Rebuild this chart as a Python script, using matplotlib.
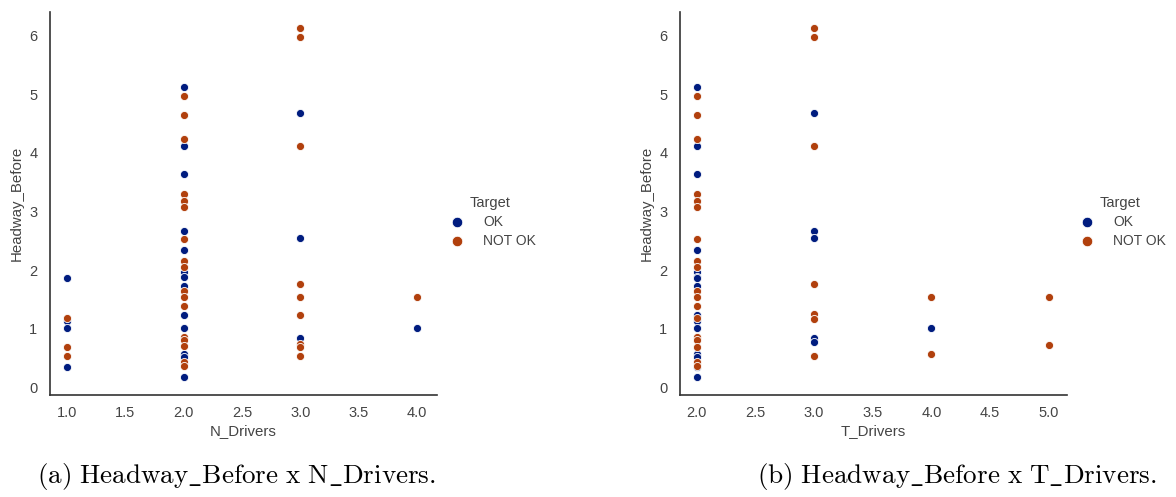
import matplotlib
matplotlib.use("Agg")
import matplotlib.pyplot as plt
import numpy as np

# ---------------- data ----------------
# Panel (a): Headway_Before vs N_Drivers
n_drivers = [1, 1, 1, 1, 1, 1, 1,
             2, 2, 2, 2, 2, 2, 2, 2, 2, 2, 2, 2, 2, 2, 2, 2,
             2, 2, 2, 2, 2, 2, 2, 2, 2, 2,
             2, 2, 2, 2,
             3, 3, 3, 3, 3, 3, 3, 3, 3, 3, 3, 3,
             4, 4]
headway_n = [1.865, 1.19, 1.13, 1.02, 0.68, 0.53, 0.34,
             5.12, 4.97, 4.64, 4.23, 4.12, 3.64, 3.29, 3.18, 3.07, 2.67, 2.53, 2.34, 2.15, 2.05, 1.96, 1.88,
             1.72, 1.64, 1.54, 1.38, 1.24, 1.01, 0.86, 0.80, 0.70, 0.57,
             0.51, 0.43, 0.37, 0.17,
             6.13, 5.97, 4.67, 4.12, 2.54, 1.77, 1.54, 1.23, 0.85, 0.74, 0.68, 0.54,
             1.54, 1.02]
target_n = ["OK", "NOT OK", "OK", "OK", "NOT OK", "NOT OK", "OK",
            "OK", "NOT OK", "NOT OK", "NOT OK", "OK", "OK", "NOT OK", "NOT OK", "NOT OK", "OK", "NOT OK", "OK", "NOT OK", "NOT OK", "OK", "OK",
            "OK", "NOT OK", "NOT OK", "NOT OK", "OK", "OK", "NOT OK", "NOT OK", "NOT OK", "OK",
            "OK", "NOT OK", "NOT OK", "OK",
            "NOT OK", "NOT OK", "OK", "NOT OK", "OK", "NOT OK", "NOT OK", "NOT OK", "OK", "NOT OK", "NOT OK", "NOT OK",
            "NOT OK", "OK"]

# Panel (b): Headway_Before vs T_Drivers
t_drivers = [2, 2, 2, 2, 2, 2, 2, 2, 2, 2, 2, 2, 2, 2, 2, 2, 2, 2, 2, 2,
             2, 2, 2, 2, 2, 2, 2, 2, 2, 2, 2, 2, 2,
             3, 3, 3, 3, 3, 3, 3, 3, 3, 3, 3, 3,
             4, 4, 4,
             5, 5]
headway_t = [5.12, 4.97, 4.64, 4.23, 4.12, 3.64, 3.29, 3.18, 3.07, 2.53, 2.34, 2.15, 2.05, 1.96, 1.88, 1.865, 1.72, 1.64, 1.54, 1.38,
             1.24, 1.19, 1.13, 1.01, 0.86, 0.80, 0.68, 0.57, 0.51, 0.43, 0.37, 0.34, 0.17,
             6.13, 5.97, 4.67, 4.12, 2.67, 2.54, 1.77, 1.25, 1.17, 0.85, 0.77, 0.54,
             1.54, 1.02, 0.57,
             1.54, 0.73]
target_t = ["OK", "NOT OK", "NOT OK", "NOT OK", "OK", "OK", "NOT OK", "NOT OK", "NOT OK", "NOT OK", "OK", "NOT OK", "NOT OK", "OK", "OK", "OK", "OK", "NOT OK", "NOT OK", "NOT OK",
            "OK", "NOT OK", "OK", "OK", "NOT OK", "NOT OK", "NOT OK", "OK", "OK", "NOT OK", "NOT OK", "OK", "OK",
            "NOT OK", "NOT OK", "OK", "NOT OK", "OK", "OK", "NOT OK", "NOT OK", "NOT OK", "OK", "OK", "NOT OK",
            "NOT OK", "OK", "NOT OK",
            "NOT OK", "NOT OK"]

hue_order = ["OK", "NOT OK"]
y_ticks = [0, 1, 2, 3, 4, 5, 6]
xticks_n = [1.0, 1.5, 2.0, 2.5, 3.0, 3.5, 4.0]
xticks_t = [2.0, 2.5, 3.0, 3.5, 4.0, 4.5, 5.0]
captions = [r"$\mathrm{(a)\ Headway\_Before\ x\ N\_Drivers.}$",
            r"$\mathrm{(b)\ Headway\_Before\ x\ T\_Drivers.}$"]

# ---------------- style ----------------
plt.rcParams["font.family"] = ["Liberation Sans", "DejaVu Sans"]
plt.rcParams["mathtext.fontset"] = "cm"
colors = {"OK": "#001c7f", "NOT OK": "#b1400d"}
text_c = "#444444"

fig = plt.figure(figsize=(11.76, 4.97), dpi=100)
W, H = 1176, 497

def add_panel(x0, x1, xs, ys, ts, xlabel, xticks, xlim, legend_x):
    ax = fig.add_axes([x0 / W, 1 - 395 / H, (x1 - x0) / W, (395 - 12) / H])
    xs = np.asarray(xs, float); ys = np.asarray(ys, float); ts = np.asarray(ts)
    for lab in hue_order:
        m = ts == lab
        ax.scatter(xs[m], ys[m], s=34, c=colors[lab], edgecolors="white",
                   linewidths=0.6, label=lab, zorder=3)
    ax.set_xlim(*xlim)
    ax.set_ylim(-0.13, 6.4)
    ax.set_xticks(xticks)
    ax.set_xticklabels([f"{v:.1f}" for v in xticks])
    ax.set_yticks(y_ticks)
    ax.tick_params(axis="x", length=0, labelsize=10.5, colors=text_c, pad=8)
    ax.tick_params(axis="y", length=0, labelsize=10.5, colors=text_c, pad=9)
    for s in ["top", "right"]:
        ax.spines[s].set_visible(False)
    for s in ["left", "bottom"]:
        ax.spines[s].set_color("#333333")
        ax.spines[s].set_linewidth(1.2)
    ax.set_xlabel(xlabel, fontsize=10.8, color=text_c, labelpad=3)
    ax.set_ylabel("Headway_Before", fontsize=10.8, color=text_c, labelpad=4)
    leg = ax.legend(title="Target", frameon=False, loc="center left",
                    bbox_to_anchor=((legend_x - x0) / (x1 - x0), (395 - 222) / (395 - 12)),
                    fontsize=10, title_fontsize=10.5, handletextpad=0.9,
                    markerscale=1.3, labelspacing=0.35, borderpad=0.3)
    for t in leg.get_texts():
        t.set_color(text_c)
    leg.get_title().set_color(text_c)
    return ax

add_panel(50, 437, n_drivers, headway_n, target_n, "N_Drivers", xticks_n, (0.857, 4.17), 432)
add_panel(680, 1067, t_drivers, headway_t, target_t, "T_Drivers", xticks_t, (1.857, 5.155), 1062)

fig.text(236 / W, 1 - 477 / H, captions[0], fontsize=19.5, ha="center", va="center")
fig.text(957 / W, 1 - 477 / H, captions[1], fontsize=19.5, ha="center", va="center")

fig.savefig("out.png", dpi=100)
